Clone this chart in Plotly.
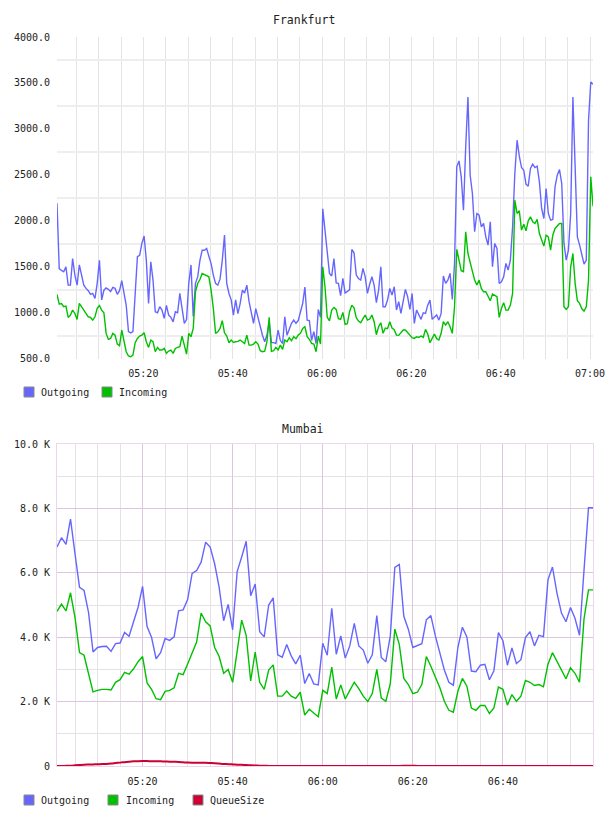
import plotly.graph_objects as go
import pandas as pd

# ---------------- DATA ----------------
FRANKFURT_START = "2024-01-01 05:00:40"
FRANKFURT_END = "2024-01-01 07:00:40"
FRANKFURT_STEP = "30s"

frankfurt_outgoing = [
    2190, 1480, 1460, 1445, 1500, 1300, 1300, 1590, 1410, 1300,
    1520, 1390, 1300, 1265, 1240, 1200, 1210, 1155, 1320, 1570,
    1140, 1245, 1270, 1255, 1230, 1275, 1265, 1200, 1240, 1350,
    1220, 1080, 795, 780, 795, 1210, 1610, 1625, 1755, 1835,
    1570, 1100, 1555, 1355, 1010, 1000, 1065, 1030, 940, 1080,
    975, 950, 900, 1010, 1000, 1210, 1065, 885, 925, 1320,
    1520, 960, 1320, 1390, 1570, 1680, 1680, 1700, 1615, 1535,
    1410, 1320, 1300, 1365, 1570, 1845, 1320, 1210, 1140, 975,
    1140, 990, 1100, 1245, 1215, 1300, 1120, 1010, 885, 1045,
    940, 850, 755, 685, 755, 900, 675, 675, 665, 810,
    700, 665, 955, 755, 820, 885, 920, 885, 915, 1010,
    1100, 1280, 920, 915, 700, 795, 665, 1035, 950,
    2130, 1917, 1700, 1428, 1400, 1590, 1325, 1320, 1185, 1373,
    1215, 1228, 1250, 1688, 1652, 1410, 1373, 1355, 1482, 1391,
    1210, 1310, 1391, 1300, 1109, 1246, 1500, 1065, 1065, 1138,
    1265, 1192, 1283, 1030, 1120, 993, 1138, 1254, 1174, 1036,
    1210, 884, 1030, 986, 928, 1000, 993, 1083, 1138, 928,
    950, 975, 920, 993, 1400, 1319, 1355, 1428, 1145, 1536,
    2587, 2652, 2478, 2116, 2804, 3348, 2496, 2297, 1881, 2080,
    2062, 1935, 1971, 1826, 1736, 1989, 1500, 1754, 1699, 1319,
    1337, 1391, 1536, 1464, 1573, 1935, 2515, 2877, 2703, 2580,
    2551, 2399, 2377, 2569, 2616, 2580, 2594, 2424, 2134, 2025,
    2351, 2080, 2007, 2015, 2370, 2496, 2558, 2406, 1754, 1573,
    1681, 2080, 3348, 2442, 1826, 1736, 1645, 1529, 1573, 3094,
    3511, 3486,
]

frankfurt_incoming = [
    1200, 1094, 1100, 1065, 1072, 949, 974, 1029, 992, 927,
    1101, 1065, 1029, 982, 956, 949, 920, 956, 1047, 1079,
    1029, 1000, 775, 710, 720, 775, 757, 659, 641, 811,
    685, 576, 529, 521, 540, 674, 721, 746, 757, 782,
    685, 623, 703, 685, 576, 623, 594, 594, 612, 558,
    583, 594, 558, 612, 623, 630, 746, 630, 550, 775,
    739, 829, 1228, 1318, 1362, 1427, 1420, 1405, 1391, 1246,
    1047, 775, 793, 829, 913, 782, 746, 674, 703, 677,
    685, 688, 703, 685, 666, 757, 648, 648, 659, 685,
    659, 587, 576, 583, 685, 950, 580, 587, 623, 594,
    648, 601, 703, 685, 728, 695, 739, 717, 757, 775,
    829, 847, 739, 710, 666, 659, 576, 746, 659,
    1500, 1283, 950, 913, 1030, 1058, 1036, 935, 928, 1004,
    873, 880, 1011, 1083, 1054, 946, 910, 891, 935, 975,
    920, 931, 975, 902, 761, 848, 891, 776, 833, 826,
    902, 833, 815, 757, 754, 786, 812, 812, 783, 757,
    728, 721, 739, 732, 747, 732, 819, 768, 674, 721,
    768, 718, 703, 776, 902, 866, 902, 848, 776, 1065,
    1689, 1573, 1457, 1446, 1881, 1645, 1544, 1471, 1355, 1301,
    1355, 1265, 1228, 1228, 1174, 1131, 1203, 1192, 1174, 950,
    1047, 1109, 1029, 1029, 1083, 1210, 2225, 2080, 2109, 1899,
    1964, 1891, 2000, 2043, 1989, 1971, 2015, 1862, 1804, 1725,
    1844, 1826, 1681, 1844, 1917, 1942, 1971, 1971, 1065, 1036,
    1065, 1500, 1645, 1319, 1131, 1102, 1043, 1018, 1065, 1355,
    2478, 2159,
]

MUMBAI_START = "2024-01-01 05:01:00"
MUMBAI_END = "2024-01-01 07:00:00"
MUMBAI_STEP = "1min"

mumbai_outgoing = [
    6800, 7090, 6880, 7670, 6590, 5550, 5450, 4770, 3540, 3680,
    3710, 3720, 3560, 3800, 3820, 4150, 4030, 4460, 4930, 5580,
    4330, 3990, 3330, 3520, 3960, 3900, 4010, 4820, 4850, 5170,
    5980, 6070, 6330, 6950, 6800, 6280, 5550, 4510, 5020, 4230,
    6040, 6490, 6980, 5290, 5650, 4170, 4010, 5000, 5220, 3450,
    3380, 3770, 3420, 3170, 3440, 2560, 2870, 2550, 2520, 3810,
    3440, 4900, 3470, 4040, 3350, 3730, 4430, 3730, 3600, 3190,
    3450, 4670, 3370, 3240, 4040, 6170, 6260, 4650, 4250, 3680,
    3750, 3800, 4540, 4670, 4040, 3520, 2980, 2600, 2510, 3680,
    4310, 4010, 2950, 2930, 3130, 3160, 2680, 2960, 4140, 3890,
    3130, 3670, 3180, 3300, 3990, 4170, 3730, 4060, 4020, 5780,
    6180, 5370, 4750, 4480, 4920, 4590, 4060, 6070, 8020, 8020,
]

mumbai_incoming = [
    4800, 5030, 4820, 5380, 4610, 3520, 3440, 2840, 2300, 2350,
    2380, 2380, 2360, 2600, 2680, 2910, 2850, 3020, 3240, 3400,
    2580, 2380, 2090, 2060, 2320, 2350, 2430, 2880, 2840, 3170,
    3530, 3850, 4750, 4480, 4350, 3680, 3400, 2880, 3000, 2600,
    3570, 4530, 4060, 2640, 3540, 2600, 2380, 2980, 3140, 2170,
    2170, 2330, 2170, 2100, 2290, 1580, 1760, 1650, 1530, 2350,
    2250, 3070, 2080, 2520, 2080, 2350, 2600, 2400, 2170, 2000,
    2250, 3000, 2110, 2010, 2560, 4250, 3770, 2720, 2530, 2250,
    2290, 2530, 3400, 3100, 2790, 2430, 2010, 1730, 1670, 2320,
    2720, 2480, 1800, 1730, 1880, 1880, 1630, 1800, 2450, 2380,
    1890, 2220, 2010, 2170, 2660, 2600, 2500, 2530, 2460, 3160,
    3520, 3260, 3000, 2710, 3050, 2880, 2600, 4560, 5470, 5470,
]

mumbai_queue = [
    0, 0, 5, 10, 20, 30, 40, 45, 50, 55,
    60, 65, 75, 90, 105, 120, 135, 145, 150, 152,
    152, 150, 148, 145, 140, 135, 130, 125, 115, 105,
    100, 100, 100, 98, 92, 85, 75, 65, 58, 50,
    42, 35, 28, 20, 14, 10, 6, 3, 0, 0,
    0, 0, 0, 0, 0, 0, 0, 0, 0, 0,
    0, 0, 0, 0, 0, 0, 0, 0, 0, 0,
    0, 0, 0, 0, 0, 0, 3, 6, 8, 6,
    3, 0, 0, 0, 0, 0, 0, 0, 0, 0,
    0, 0, 0, 0, 0, 0, 0, 0, 0, 0,
    0, 0, 0, 0, 0, 0, 0, 0, 0, 0,
    0, 0, 0, 0, 0, 0, 0, 0, 0, 0,
]

frankfurt_y_ticks = [500, 1000, 1500, 2000, 2500, 3000, 3500, 4000]
frankfurt_y_labels = ["500.0", "1000.0", "1500.0", "2000.0", "2500.0", "3000.0", "3500.0", "4000.0"]
frankfurt_y_grid = [750, 1250, 1750, 2250, 2750, 3250, 3750]
frankfurt_x_ticks = ["05:20", "05:40", "06:00", "06:20", "06:40", "07:00"]

mumbai_y_ticks = [0, 2000, 4000, 6000, 8000, 10000]
mumbai_y_labels = ["0", "2.0 K", "4.0 K", "6.0 K", "8.0 K", "10.0 K"]
mumbai_x_ticks = ["05:20", "05:40", "06:00", "06:20", "06:40", "07:00"]
mumbai_x_labels = ["05:20", "05:40", "06:00", "06:20", "06:40", ""]

series_names = ["Outgoing", "Incoming", "QueueSize"]
series_colors = ["#6666ff", "#00c000", "#cc0033"]

# ---------------- FIGURE ----------------
DAY = "2024-01-01 "
f_x = pd.date_range(FRANKFURT_START, FRANKFURT_END, freq=FRANKFURT_STEP)
m_x = pd.date_range(MUMBAI_START, MUMBAI_END, freq=MUMBAI_STEP)

W, H = 608, 816
L, R, T, B = 57, 593, 37, 766


def px(xp):
    return (xp - L) / (R - L)


def py(yp):
    return (B - yp) / (B - T)


fig = go.Figure()
fig.add_trace(go.Scatter(x=f_x, y=frankfurt_outgoing, mode="lines", name=series_names[0],
                         line=dict(color=series_colors[0], width=1.4), xaxis="x", yaxis="y",
                         showlegend=False))
fig.add_trace(go.Scatter(x=f_x, y=frankfurt_incoming, mode="lines", name=series_names[1],
                         line=dict(color=series_colors[1], width=1.4), xaxis="x", yaxis="y",
                         showlegend=False))
fig.add_trace(go.Scatter(x=m_x, y=mumbai_outgoing, mode="lines", name=series_names[0],
                         line=dict(color=series_colors[0], width=1.4), xaxis="x2", yaxis="y2",
                         showlegend=False))
fig.add_trace(go.Scatter(x=m_x, y=mumbai_incoming, mode="lines", name=series_names[1],
                         line=dict(color=series_colors[1], width=1.4), xaxis="x2", yaxis="y2",
                         showlegend=False))
fig.add_trace(go.Scatter(x=m_x, y=mumbai_queue, mode="lines", name=series_names[2],
                         line=dict(color=series_colors[2], width=2, shape="spline"),
                         xaxis="x2", yaxis="y2", showlegend=False))

mono = "DejaVu Sans Mono"
tickfont = dict(family=mono, size=10, color="#222222")
grid_top_v = "#e4e4e4"
grid_top_h = "#eeeeee"
grid_major = "#dcc6dc"
grid_minor = "#e6e1e6"

fig.update_layout(
    width=W, height=H,
    margin=dict(l=L, r=W - R, t=T, b=H - B, pad=0, autoexpand=False),
    paper_bgcolor="white", plot_bgcolor="white",
    showlegend=False,
    xaxis=dict(
        domain=[0, 1], anchor="y", type="date", automargin=False,
        range=[FRANKFURT_START, FRANKFURT_END],
        tickmode="array", tickvals=[DAY + t for t in frankfurt_x_ticks],
        ticktext=frankfurt_x_ticks,
        tickfont=tickfont, ticks="outside", ticklen=5, tickcolor="rgba(0,0,0,0)",
        showgrid=True, gridcolor=grid_top_v, gridwidth=1,
        minor=dict(tick0=DAY + "05:00:00", dtick=300000, showgrid=True,
                   gridcolor=grid_top_v, gridwidth=1),
        showline=False, zeroline=False,
    ),
    yaxis=dict(
        domain=[py(358.7), 1], anchor="x", automargin=False,
        range=[500, 4000],
        tickmode="array", tickvals=frankfurt_y_ticks, ticktext=frankfurt_y_labels,
        tickfont=tickfont, ticks="outside", ticklen=4, tickcolor="rgba(0,0,0,0)",
        showgrid=False,
        minor=dict(tickmode="array", tickvals=frankfurt_y_grid, showgrid=True,
                   gridcolor=grid_top_h, gridwidth=2),
        showline=False, zeroline=False,
    ),
    xaxis2=dict(
        domain=[0, 1], anchor="y2", type="date", automargin=False,
        range=[MUMBAI_START, MUMBAI_END],
        tickmode="array", tickvals=[DAY + t for t in mumbai_x_ticks],
        ticktext=mumbai_x_labels,
        tickfont=tickfont, ticks="outside", ticklen=6, tickcolor="rgba(0,0,0,0)",
        showgrid=True, gridcolor=grid_major, gridwidth=1,
        minor=dict(tick0=DAY + "05:00:00", dtick=300000, showgrid=True,
                   gridcolor=grid_minor, gridwidth=1),
        showline=True, mirror=True, linecolor="#ead8ea", linewidth=1, zeroline=False,
    ),
    yaxis2=dict(
        domain=[0, py(444)], anchor="x2", automargin=False,
        range=[0, 10000],
        tickmode="array", tickvals=mumbai_y_ticks, ticktext=mumbai_y_labels,
        tickfont=tickfont, ticks="outside", ticklen=4, tickcolor="rgba(0,0,0,0)",
        showgrid=True, gridcolor=grid_major, gridwidth=1,
        minor=dict(dtick=1000, showgrid=True, gridcolor=grid_minor, gridwidth=1),
        showline=True, mirror=True, linecolor="#ead8ea", linewidth=1, zeroline=False,
    ),
)

annotations = [
    dict(text="Frankfurt", x=px(304), y=py(20), xref="paper", yref="paper",
         xanchor="center", yanchor="middle", showarrow=False,
         font=dict(family=mono, size=11.5, color="#222222")),
    dict(text="Mumbai", x=px(303), y=py(429), xref="paper", yref="paper",
         xanchor="center", yanchor="middle", showarrow=False,
         font=dict(family=mono, size=11.5, color="#222222")),
]
shapes = []

legend_items = [
    # (series index, square left px, square top px, text left px)
    (0, 24, 387, 39), (1, 102, 387, 117),
    (0, 24, 795, 39), (1, 108, 795, 124), (2, 193, 795, 208),
]
for idx, sx, sy, tx in legend_items:
    shapes.append(dict(type="rect", xref="paper", yref="paper",
                       x0=px(sx), x1=px(sx + 10), y0=py(sy + 10), y1=py(sy),
                       fillcolor=series_colors[idx], line=dict(color="#888888", width=1)))
    annotations.append(dict(text=series_names[idx], x=px(tx), y=py(sy + 5),
                            xref="paper", yref="paper", xanchor="left", yanchor="middle",
                            showarrow=False, font=dict(family=mono, size=10, color="#222222")))

fig.update_layout(annotations=annotations, shapes=shapes)

fig.write_html("out.html", config={"displayModeBar": False})
